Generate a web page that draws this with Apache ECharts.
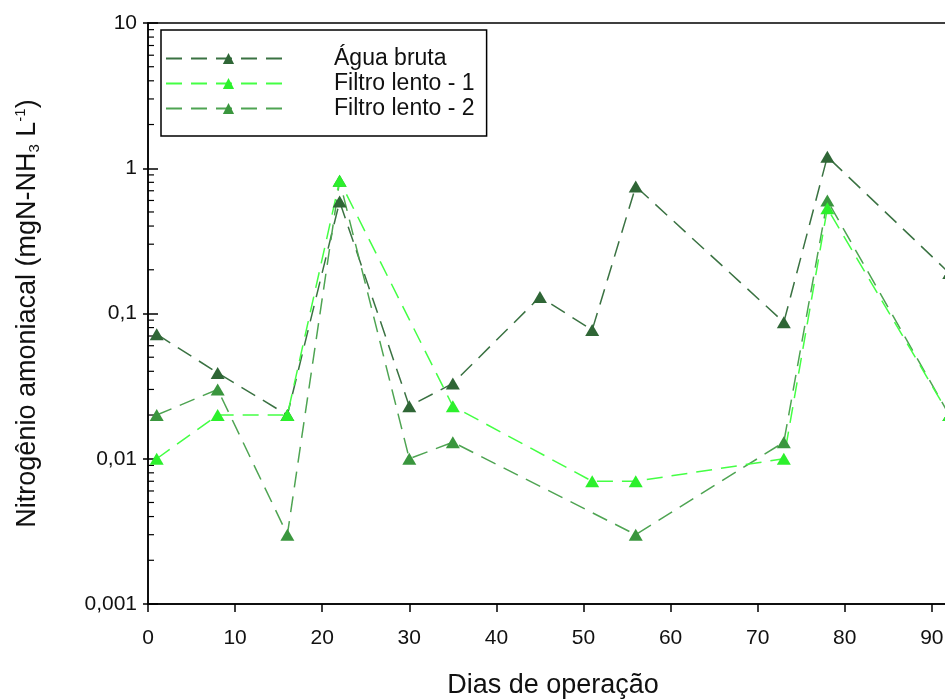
<!DOCTYPE html>
<html>
<head>
<meta charset="utf-8">
<script src="https://cdn.jsdelivr.net/npm/echarts@6/dist/echarts.min.js"></script>
<style>html,body{margin:0;padding:0;background:#fff}#c{width:945px;height:700px}</style>
</head>
<body>
<div id="c"></div>
<script>
// ---- data ----
const seriesNames = ['Água bruta', 'Filtro lento - 1', 'Filtro lento - 2'];
const aguaDays = [1, 8, 16, 22, 30, 35, 45, 51, 56, 73, 78, 92];
const aguaValues = [0.072, 0.039, 0.02, 0.59, 0.023, 0.033, 0.13, 0.077, 0.75, 0.087, 1.2, 0.19];
const f1Days = [1, 8, 16, 22, 35, 51, 56, 73, 78, 92];
const f1Values = [0.01, 0.02, 0.02, 0.82, 0.023, 0.007, 0.007, 0.01, 0.53, 0.02];
const f2Days = [1, 8, 16, 22, 30, 35, 56, 73, 78, 92];
const f2Values = [0.02, 0.03, 0.003, 0.82, 0.01, 0.013, 0.003, 0.013, 0.6, 0.02];
const xTicks = [0, 10, 20, 30, 40, 50, 60, 70, 80, 90];
const yTicks = [0.001, 0.01, 0.1, 1, 10];
const yTickLabels = ['0,001', '0,01', '0,1', '1', '10'];
const yMinorTicks = [0.002, 0.003, 0.004, 0.005, 0.006, 0.007, 0.008, 0.009,
  0.02, 0.03, 0.04, 0.05, 0.06, 0.07, 0.08, 0.09,
  0.2, 0.3, 0.4, 0.5, 0.6, 0.7, 0.8, 0.9,
  2, 3, 4, 5, 6, 7, 8, 9];

// ---- chart ----
const FONT = 'Arial, "Liberation Sans", sans-serif';
const pairs = (xs, ys) => xs.map((x, i) => [x, ys[i]]);
const chart = echarts.init(document.getElementById('c'), null, {renderer: 'canvas'});

function lineSeries(name, xs, ys, lineColor, markColor) {
  return {
    name: name,
    type: 'line',
    data: pairs(xs, ys),
    symbol: 'triangle',
    symbolSize: [14, 12],
    itemStyle: {color: markColor},
    lineStyle: {color: lineColor, width: 1.5, type: [16, 9]},
    emphasis: {disabled: true},
    animation: false
  };
}

const option = {
  animation: false,
  textStyle: {fontFamily: FONT},
  grid: {left: 148, top: 23, width: 810, height: 581, containLabel: false, outerBoundsMode: 'none',
    show: true, borderColor: '#000', borderWidth: 1.5, backgroundColor: 'transparent'},
  legend: {
    data: seriesNames,
    orient: 'vertical',
    left: 161, top: 30,
    padding: [16, 12, 15, 4],
    itemGap: 0,
    itemWidth: 125,
    itemHeight: 14,
    borderColor: '#000',
    borderWidth: 1.5,
    textStyle: {fontFamily: FONT, fontSize: 23, color: '#111', lineHeight: 25, padding: [0, 0, 0, 38]},
    selectedMode: false
  },
  xAxis: {
    type: 'value',
    min: 0, max: 93, interval: 10,
    axisLine: {show: true, lineStyle: {color: '#000', width: 1.5}},
    axisTick: {show: true, inside: false, length: 8, lineStyle: {color: '#000', width: 1.5}},
    axisLabel: {fontFamily: FONT, fontSize: 21, color: '#111', margin: 24,
      formatter: v => (xTicks.indexOf(v) >= 0 ? String(v) : '')},
    splitLine: {show: false},
    name: 'Dias de operação',
    nameLocation: 'middle',
    nameGap: 68,
    nameTextStyle: {fontFamily: FONT, fontSize: 27, color: '#111'}
  },
  yAxis: [{
    type: 'log', logBase: 10,
    min: 0.001, max: 10,
    axisLine: {show: true, lineStyle: {color: '#000', width: 1.5}},
    axisTick: {show: true, inside: true, length: 10, lineStyle: {color: '#000', width: 1.5}},
    axisLabel: {fontFamily: FONT, fontSize: 21, color: '#111', margin: 11,
      formatter: v => {
        for (let i = 0; i < yTicks.length; i++) {
          if (Math.abs(Math.log10(v) - Math.log10(yTicks[i])) < 1e-6) return yTickLabels[i];
        }
        return '';
      }},
    splitLine: {show: false},
    name: 'Nitrogênio amoniacal (mgN-NH{sub|3} L{sup|-1})',
    nameLocation: 'middle',
    nameRotate: 90,
    nameGap: 106,
    nameTextStyle: {fontFamily: FONT, fontSize: 27, color: '#111',
      rich: {
        sub: {fontFamily: FONT, fontSize: 15, color: '#111', verticalAlign: 'bottom', padding: [14, 0, 0, 0]},
        sup: {fontFamily: FONT, fontSize: 15, color: '#111', verticalAlign: 'top', padding: [0, 0, 12, 0]}
      }}
  }, {
    type: 'log', logBase: 10,
    min: 0.001, max: 10,
    position: 'left',
    axisLine: {show: false},
    axisTick: {show: true, inside: false, length: 5, lineStyle: {color: '#000', width: 1.5}},
    axisLabel: {show: false},
    splitLine: {show: false}
  }],
  series: [
    lineSeries(seriesNames[0], aguaDays, aguaValues, '#3a7242', '#2f6636'),
    lineSeries(seriesNames[2], f2Days, f2Values, '#4ea452', '#3a963e'),
    lineSeries(seriesNames[1], f1Days, f1Values, '#44ff44', '#2cf02c'),
    {
      type: 'custom',
      name: 'minorTicks',
      silent: true,
      clip: false,
      data: yMinorTicks.map(v => [0, v]),
      renderItem: (params, api) => {
        const p = api.coord([api.value(0), api.value(1)]);
        return {type: 'line', shape: {x1: p[0], y1: p[1], x2: p[0] + 6, y2: p[1]},
          style: {stroke: '#000', lineWidth: 1.2}};
      },
      animation: false
    }
  ]
};
chart.setOption(option);
</script>
</body>
</html>
